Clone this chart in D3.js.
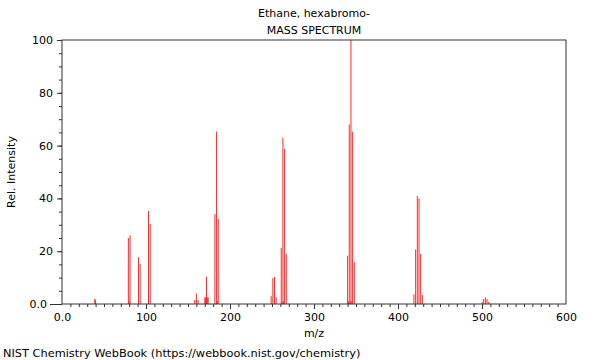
<!DOCTYPE html>
<html>
<head>
<meta charset="utf-8">
<script src="https://cdn.jsdelivr.net/npm/d3@7"></script>
<style>
  body { margin: 0; background: #fff; }
  svg { display: block; font-family: "DejaVu Sans", sans-serif; }
</style>
</head>
<body>
<div id="chart"></div>
<script>
const TITLE = "Ethane, hexabromo-";
const SUBTITLE = "MASS SPECTRUM";
const X_LABEL = "m/z";
const Y_LABEL = "Rel. Intensity";
const FOOTER = "NIST Chemistry WebBook (https://webbook.nist.gov/chemistry)";

// m/z and relative intensity
const mz = [
  39, 40,
  79, 80, 81,
  91, 93,
  103, 105,
  158, 160, 162,
  170, 171, 172, 173, 174,
  182, 184, 185, 186,
  249, 251, 253, 255,
  261, 262, 263, 264, 265, 267,
  340, 341, 342, 343, 344, 345, 346, 348,
  419, 421, 423, 425, 427, 429,
  500, 502, 504, 506, 508
];
const intensity = [
  2, 1.5,
  25, 1, 26,
  17.7, 15.2,
  35.2, 30.3,
  1.5, 4, 1.5,
  2.5, 2.5, 10.3, 2.5, 2.5,
  34, 65.3, 1, 32.2,
  3, 9.8, 10.2, 2.5,
  21.3, 1, 63, 1, 58.8, 19,
  18.3, 1, 68, 1, 100, 1, 65.3, 15.8,
  3.7, 20.7, 41, 40, 19, 3.4,
  0.8, 1.9, 2.5, 1.9, 0.8
];
const xTicks = [0, 100, 200, 300, 400, 500, 600];
const yTicks = [0, 20, 40, 60, 80, 100];

const width = 600, height = 360;
const margin = { top: 40, right: 34, bottom: 56, left: 62 };

const svg = d3.select("#chart").append("svg")
  .attr("width", width)
  .attr("height", height);

const x = d3.scaleLinear().domain([0, 600]).range([margin.left, width - margin.right]);
const y = d3.scaleLinear().domain([0, 100]).range([height - margin.bottom, margin.top]);

// peaks
svg.append("g")
  .selectAll("line")
  .data(mz.map((m, i) => ({ m, v: intensity[i] })))
  .join("line")
  .attr("x1", (d) => x(d.m))
  .attr("x2", (d) => x(d.m))
  .attr("y1", y(0))
  .attr("y2", (d) => y(d.v))
  .attr("stroke", "#ff2a2a")
  .attr("stroke-width", 1);

// minor ticks
const xAxisMinor = d3.axisBottom(x).tickValues(d3.range(10, 600, 10)).tickSize(3).tickFormat("");
const yAxisMinor = d3.axisLeft(y).tickValues(d3.range(0, 101, 5)).tickSize(3).tickFormat("");

svg.append("g")
  .attr("transform", `translate(0,${y(0)})`)
  .call(xAxisMinor)
  .call((g) => g.select(".domain").remove());
svg.append("g")
  .attr("transform", `translate(${x(0)},0)`)
  .call(yAxisMinor)
  .call((g) => g.select(".domain").remove());

// major ticks
const xAxis = d3.axisBottom(x).tickValues(xTicks).tickSize(5).tickPadding(4)
  .tickFormat((d) => (d === 0 ? "0.0" : d));
const yAxis = d3.axisLeft(y).tickValues(yTicks).tickSize(5).tickPadding(4)
  .tickFormat((d) => (d === 0 ? "0.0" : d));

const gx = svg.append("g")
  .attr("transform", `translate(0,${y(0)})`)
  .call(xAxis);
const gy = svg.append("g")
  .attr("transform", `translate(${x(0)},0)`)
  .call(yAxis);

[gx, gy].forEach((g) => {
  g.select(".domain").remove();
  g.selectAll("text").attr("font-size", 11).attr("fill", "#000").attr("font-family", "DejaVu Sans, sans-serif");
});

// x ticks at the frame corners are hidden, the y origin tick is longer
gx.selectAll(".tick").filter((d) => d === 0 || d === 600).select("line").remove();
gy.selectAll(".tick").filter((d) => d === 0).call((t) => {
  t.select("line").attr("x2", -12);
  t.select("text").attr("x", -15);
});

svg.selectAll(".tick line").attr("stroke", "#333");

// frame
svg.append("rect")
  .attr("x", x(0))
  .attr("y", y(100))
  .attr("width", x(600) - x(0))
  .attr("height", y(0) - y(100))
  .attr("fill", "none")
  .attr("stroke", "#333")
  .attr("stroke-width", 1);

const cx = (x(0) + x(600)) / 2;

svg.append("text")
  .attr("x", cx).attr("y", 17)
  .attr("text-anchor", "middle").attr("font-size", 11)
  .text(TITLE);
svg.append("text")
  .attr("x", cx).attr("y", 34)
  .attr("text-anchor", "middle").attr("font-size", 11)
  .text(SUBTITLE);

svg.append("text")
  .attr("x", cx).attr("y", 337)
  .attr("text-anchor", "middle").attr("font-size", 11)
  .text(X_LABEL);

svg.append("text")
  .attr("transform", `translate(15,${(y(0) + y(100)) / 2}) rotate(-90)`)
  .attr("text-anchor", "middle").attr("font-size", 11)
  .text(Y_LABEL);

svg.append("text")
  .attr("x", 3).attr("y", 357)
  .attr("font-size", 11.35)
  .text(FOOTER);
</script>
</body>
</html>
